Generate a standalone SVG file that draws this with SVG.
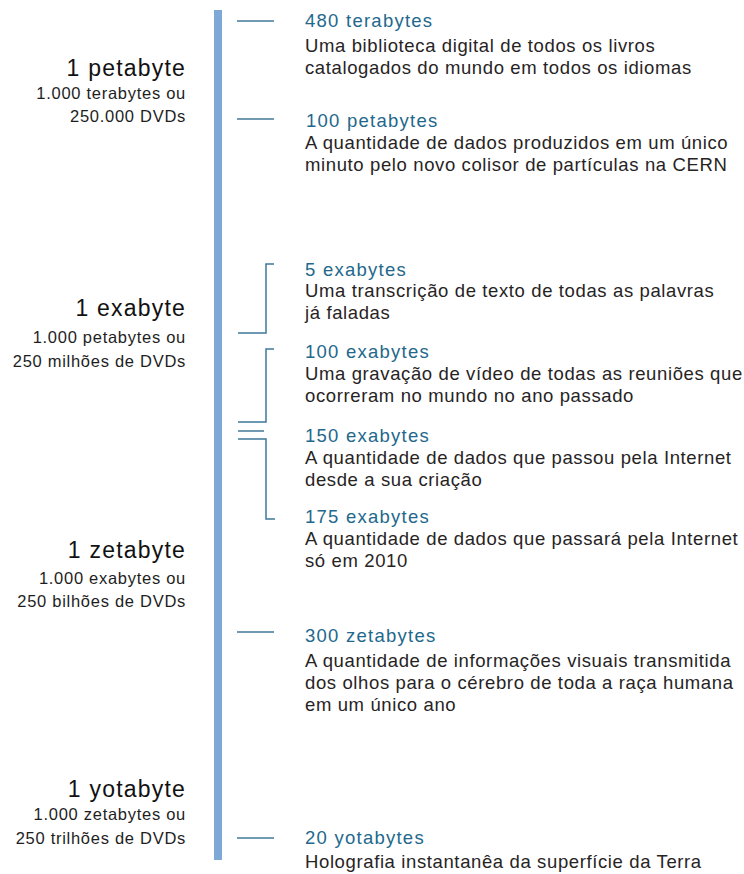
<svg xmlns="http://www.w3.org/2000/svg" width="744" height="874" viewBox="0 0 744 874">
  <style>
    .unit { font-family: "Liberation Sans", Arial, sans-serif; font-size: 23px; fill: #111; text-anchor: end; letter-spacing: 1.2px; }
    .eq { font-family: "Liberation Sans", Arial, sans-serif; font-size: 16.5px; fill: #1e1e1e; text-anchor: end; letter-spacing: 0.72px; }
    .head { font-family: "Liberation Sans", Arial, sans-serif; font-size: 18.5px; fill: #23688c; letter-spacing: 1.25px; }
    .body { font-family: "Liberation Sans", Arial, sans-serif; font-size: 18.5px; fill: #27241f; letter-spacing: 0.62px; }
    .conn { fill: none; stroke: #3f7899; stroke-width: 1.5; }
  </style>
  <rect width="744" height="874" fill="#ffffff"/>

  <!-- scale axis -->
  <rect id="axis" x="214" y="10" width="8" height="850" fill="#7ea9d6"/>

  <!-- unit labels on the left -->
  <g id="petabyte">
    <text class="unit" x="186" y="76">1 petabyte</text>
    <text class="eq" x="186" y="99">1.000 terabytes ou</text>
    <text class="eq" x="186" y="122">250.000 DVDs</text>
  </g>
  <g id="exabyte">
    <text class="unit" x="186" y="316">1 exabyte</text>
    <text class="eq" x="186" y="343">1.000 petabytes ou</text>
    <text class="eq" x="186" y="367">250 milhões de DVDs</text>
  </g>
  <g id="zetabyte">
    <text class="unit" x="186" y="558">1 zetabyte</text>
    <text class="eq" x="186" y="584">1.000 exabytes ou</text>
    <text class="eq" x="186" y="607">250 bilhões de DVDs</text>
  </g>
  <g id="yotabyte">
    <text class="unit" x="186" y="797">1 yotabyte</text>
    <text class="eq" x="186" y="820">1.000 zetabytes ou</text>
    <text class="eq" x="186" y="844">250 trilhões de DVDs</text>
  </g>

  <!-- ticks and brackets -->
  <g id="connectors" class="conn">
    <line x1="237" y1="21" x2="274" y2="21"/>
    <line x1="237" y1="119" x2="274" y2="119"/>
    <polyline points="274,264 266,264 266,333 238,333"/>
    <polyline points="274,349 266,349 266,422 238,422"/>
    <line x1="238" y1="431" x2="264" y2="431"/>
    <polyline points="238,439 266,439 266,519 275,519"/>
    <line x1="237" y1="632" x2="274" y2="632"/>
    <line x1="237" y1="838" x2="274" y2="838"/>
  </g>

  <!-- examples on the right -->
  <g id="ex-480tb">
    <text class="head" x="305" y="27">480 terabytes</text>
    <text class="body" x="305" y="52">Uma biblioteca digital de todos os livros</text>
    <text class="body" x="305" y="74">catalogados do mundo em todos os idiomas</text>
  </g>
  <g id="ex-100pb">
    <text class="head" x="306" y="127">100 petabytes</text>
    <text class="body" x="305" y="149">A quantidade de dados produzidos em um único</text>
    <text class="body" x="305" y="171">minuto pelo novo colisor de partículas na CERN</text>
  </g>
  <g id="ex-5eb">
    <text class="head" x="305" y="276">5 exabytes</text>
    <text class="body" x="305" y="297">Uma transcrição de texto de todas as palavras</text>
    <text class="body" x="305" y="319">já faladas</text>
  </g>
  <g id="ex-100eb">
    <text class="head" x="305" y="358">100 exabytes</text>
    <text class="body" x="305" y="380">Uma gravação de vídeo de todas as reuniões que</text>
    <text class="body" x="305" y="402">ocorreram no mundo no ano passado</text>
  </g>
  <g id="ex-150eb">
    <text class="head" x="305" y="442">150 exabytes</text>
    <text class="body" x="305" y="464">A quantidade de dados que passou pela Internet</text>
    <text class="body" x="305" y="486">desde a sua criação</text>
  </g>
  <g id="ex-175eb">
    <text class="head" x="305" y="523">175 exabytes</text>
    <text class="body" x="305" y="545">A quantidade de dados que passará pela Internet</text>
    <text class="body" x="305" y="567">só em 2010</text>
  </g>
  <g id="ex-300zb">
    <text class="head" x="305" y="642">300 zetabytes</text>
    <text class="body" x="305" y="667">A quantidade de informações visuais transmitida</text>
    <text class="body" x="305" y="689">dos olhos para o cérebro de toda a raça humana</text>
    <text class="body" x="305" y="711">em um único ano</text>
  </g>
  <g id="ex-20yb">
    <text class="head" x="305" y="844">20 yotabytes</text>
    <text class="body" x="305" y="868">Holografia instantanêa da superfície da Terra</text>
  </g>
</svg>
